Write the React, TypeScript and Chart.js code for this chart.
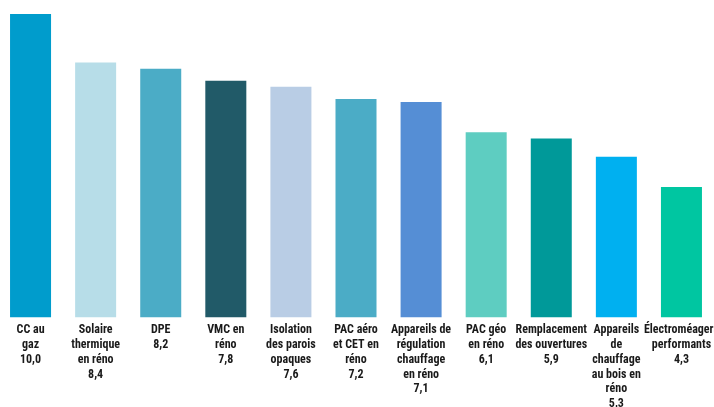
import React, { useEffect, useRef } from "react";
import { Chart, registerables } from "chart.js";

Chart.register(...registerables);

const categories: string[][] = [
  ["CC au", "gaz"],
  ["Solaire", "thermique", "en réno"],
  ["DPE"],
  ["VMC en", "réno"],
  ["Isolation", "des parois", "opaques"],
  ["PAC aéro", "et CET en", "réno"],
  ["Appareils de", "régulation", "chauffage", "en réno"],
  ["PAC géo", "en réno"],
  ["Remplacement", "des ouvertures"],
  ["Appareils", "de", "chauffage", "au bois en", "réno"],
  ["Électroméagers", "performants"],
];

const values: number[] = [10.0, 8.4, 8.2, 7.8, 7.6, 7.2, 7.1, 6.1, 5.9, 5.3, 4.3];

const barColors: string[] = [
  "#009CCC",
  "#B7DDE8",
  "#4BACC6",
  "#215A68",
  "#B9CDE5",
  "#4BACC6",
  "#558ED5",
  "#5ECDC1",
  "#009999",
  "#00B0F0",
  "#00C6A1",
];

const fmt = (v: number) => v.toFixed(1).replace(".", ",");

export default function App() {
  const ref = useRef<HTMLCanvasElement | null>(null);

  useEffect(() => {
    if (!ref.current) return;
    const labels = categories.map((c, i) => [...c, fmt(values[i])]);
    const chart = new Chart(ref.current, {
      type: "bar",
      data: {
        labels,
        datasets: [
          {
            data: values,
            backgroundColor: barColors,
            borderWidth: 0,
            barPercentage: 0.63,
            categoryPercentage: 1,
          },
        ],
      },
      options: {
        animation: false,
        responsive: true,
        maintainAspectRatio: false,
        layout: { padding: { top: 14, left: 0, right: 0, bottom: 0 } },
        plugins: { legend: { display: false }, tooltip: { enabled: false } },
        scales: {
          x: {
            grid: { display: false, drawTicks: false },
            border: { display: false },
            ticks: {
              autoSkip: false,
              maxRotation: 0,
              minRotation: 0,
              padding: 5.5,
              color: "#1a1a1a",
              font: {
                family: "'Roboto Condensed', 'Liberation Sans', sans-serif",
                size: 12,
                weight: "bold",
                lineHeight: 1.23,
              },
            },
            afterFit: (scale: any) => {
              scale.height = 89.5;
              scale.paddingLeft = 0;
              scale.paddingRight = 0;
            },
          },
          y: {
            display: false,
            min: 0,
            max: 10,
          },
        },
      },
    });
    return () => chart.destroy();
  }, []);

  return (
    <div style={{ position: "absolute", left: -2, top: 0, width: 716, height: 407 }}>
      <canvas ref={ref} />
    </div>
  );
}
